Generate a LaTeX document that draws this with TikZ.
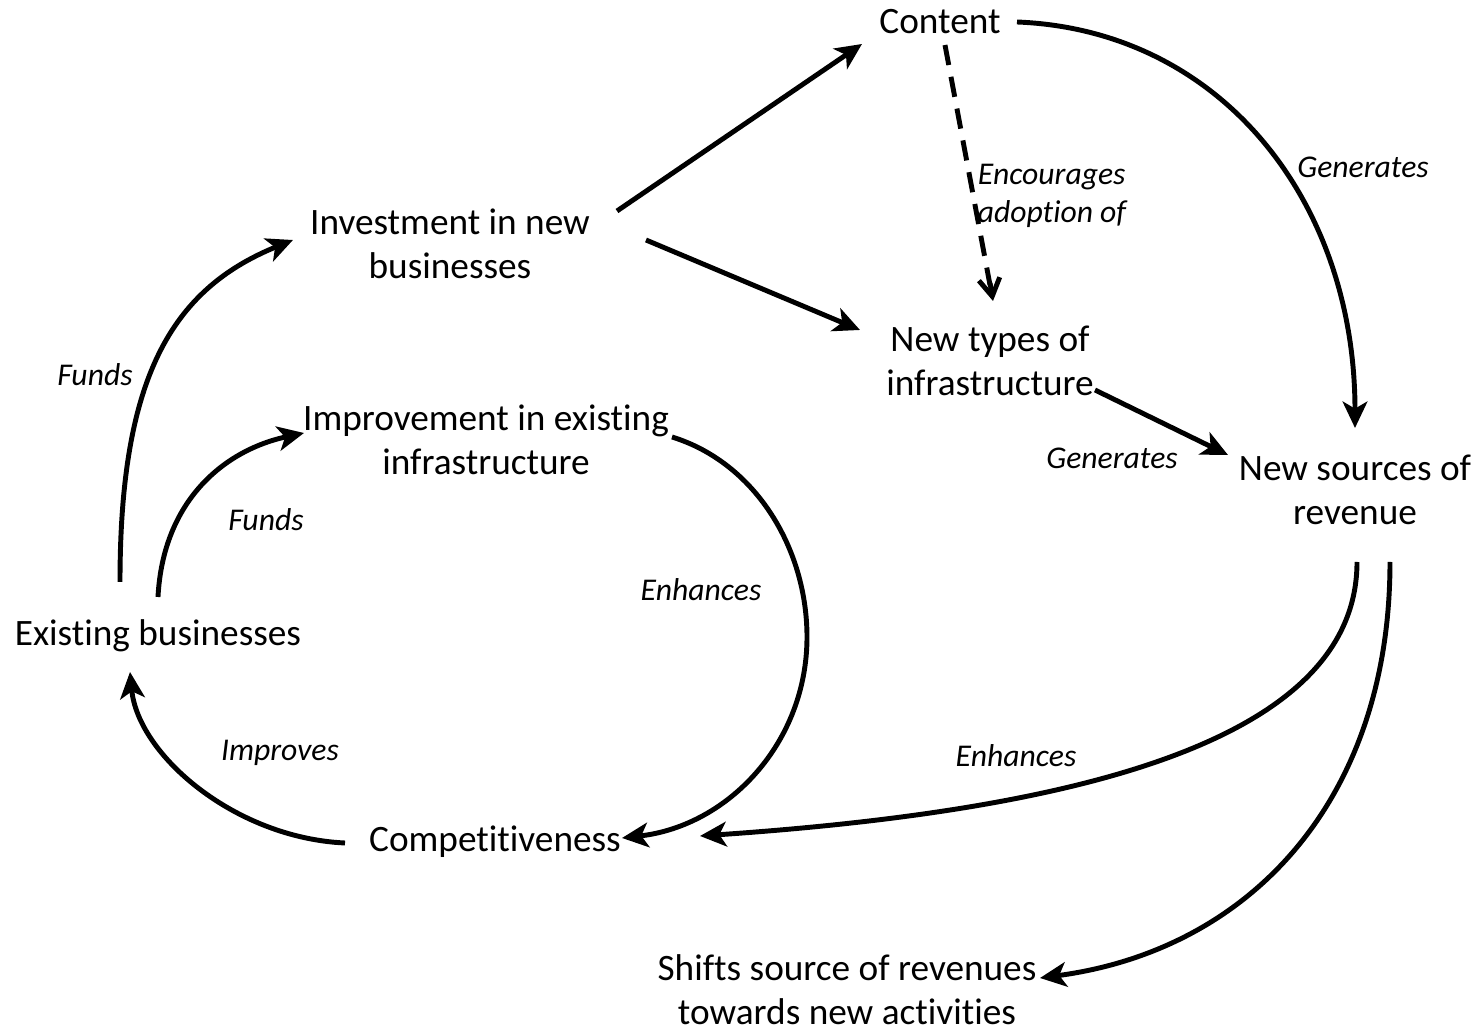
\documentclass[tikz,border=0pt]{standalone}
\usepackage{fontspec}
\setmainfont{Carlito}[Ligatures=NoCommon]
\usetikzlibrary{arrows.meta}
\begin{document}
\begin{tikzpicture}[x=0.01cm,y=-0.01cm,
  concept/.style={align=center,inner sep=0pt,font=\fontsize{10.6}{12.5}\selectfont},
  rel/.style={align=left,inner sep=0pt,font=\fontsize{9}{10.8}\selectfont\itshape},
  link/.style={line width=1.4pt,-{Stealth[length=7.5pt,width=7pt,inset=2pt]}},
  hint/.style={line width=1.4pt,dash pattern=on 5.8pt off 3.4pt},
  hinttip/.style={line width=1.4pt,-{Straight Barb[length=5pt,width=6pt]}}]
\useasboundingbox (0,0) rectangle (1481,1031);

% concepts
\node[concept] (con) at (940,22) {Content};
\node[concept] (inv) at (450,244) {Investment in new\\businesses};
\node[concept] (nty) at (990,361) {New types of\\infrastructure};
\node[concept] (imp) at (486,440) {Improvement in existing\\infrastructure};
\node[concept] (nsr) at (1355,490) {New sources of\\revenue};
\node[concept] (exb) at (158,636) {Existing businesses};
\node[concept] (com) at (495,842) {Competitiveness};
\node[concept] (shf) at (847,990) {Shifts source of revenues\\towards new activities};

% relation labels
\node[rel] (l1) at (1052,196) {Encourages\\adoption of};
\node[rel] (l2) at (1363,167) {Generates};
\node[rel] (l3) at (1112,458) {Generates};
\node[rel] (l4) at (95,375) {Funds};
\node[rel] (l5) at (266,520) {Funds};
\node[rel] (l6) at (701,590) {Enhances};
\node[rel] (l7) at (280,753) {Improves};
\node[rel] (l8) at (1016,756) {Enhances};

% bend point of the inner loop
\coordinate (enhmid) at (807,637);

% straight links
\draw[link] ([shift={(167,-33)}]inv.center) -- ([shift={(-78,22)}]con.center);
\draw[link] ([shift={(196,-4)}]inv.center) -- ([shift={(-130,-31)}]nty.center);
\draw[link] ([shift={(105,29)}]nty.center) -- ([shift={(-127,-35)}]nsr.center);
\draw[hint] ([shift={(5,23)}]con.center) -- ([shift={(0,-76)}]nty.center);
\draw[hinttip] ([shift={(0,-78)}]nty.center) -- ([shift={(3,-60)}]nty.center);

% curved links
\draw[link] ([shift={(77,0)}]con.center) .. controls +(203,8) and +(0,-228) .. ([shift={(0,-62)}]nsr.center);
\draw[link] ([shift={(-38,-54)}]exb.center) .. controls +(0,-202) and +(-123,50) .. ([shift={(-157,-4)}]inv.center);
\draw[link] ([shift={(0,-39)}]exb.center) .. controls +(5,-97) and +(-79,17) .. ([shift={(-182,-7)}]imp.center);
\draw[link] ([shift={(186,-3)}]imp.center) .. controls +(84,26) and +(0,-88) .. (enhmid)
  .. controls +(0,106) and +(106,-12) .. ([shift={(127,-4)}]com.center);
\draw[link] ([shift={(-150,1)}]com.center) .. controls +(-110,-5) and +(8,83) .. ([shift={(-28,36)}]exb.center);
\draw[link] ([shift={(2,72)}]nsr.center) .. controls +(0,178) and +(380,-26) .. ([shift={(205,-6)}]com.center);
\draw[link] ([shift={(35,72)}]nsr.center) .. controls +(0,238) and +(210,-28) .. ([shift={(193,-12)}]shf.center);
\end{tikzpicture}
\end{document}
